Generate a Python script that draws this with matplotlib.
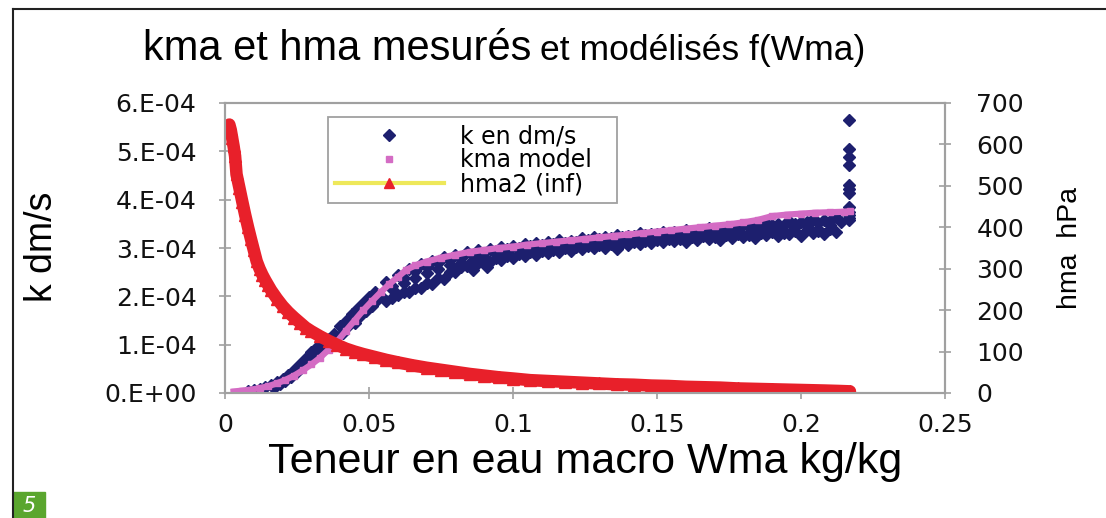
import numpy as np
import matplotlib.pyplot as plt
from matplotlib.lines import Line2D
from matplotlib.patches import Rectangle

# k mesuré (dm/s, en unités de 1e-4) en fonction de Wma (kg/kg)
w_mes = [0.008, 0.010, 0.012, 0.013, 0.014, 0.016, 0.017, 0.018, 0.019, 0.020,
         0.021, 0.022, 0.023, 0.024, 0.025, 0.026, 0.027, 0.028, 0.029, 0.030,
         0.031, 0.032, 0.033, 0.034, 0.035, 0.036, 0.037, 0.038, 0.039, 0.040,
         0.041, 0.042, 0.043, 0.044, 0.045, 0.046, 0.047, 0.048, 0.049, 0.050,
         0.051, 0.053,
         # brin haut
         0.052, 0.056, 0.060, 0.064, 0.068, 0.072, 0.076, 0.080, 0.084, 0.088,
         0.092, 0.096, 0.100, 0.104, 0.108, 0.112, 0.116, 0.120, 0.124, 0.128,
         0.132, 0.136, 0.140, 0.144, 0.148, 0.152, 0.156, 0.160, 0.164, 0.168,
         0.172, 0.176, 0.180, 0.184, 0.188, 0.192, 0.196, 0.200, 0.204, 0.208,
         0.212,
         # brin intermédiaire haut
         0.058, 0.062, 0.066, 0.070, 0.074, 0.078, 0.082, 0.086, 0.090, 0.094,
         0.098, 0.102, 0.106, 0.110, 0.114, 0.118, 0.122, 0.126, 0.130, 0.134,
         0.138, 0.142, 0.146, 0.150, 0.154, 0.158, 0.162, 0.166, 0.170, 0.174,
         0.178, 0.182, 0.186, 0.190, 0.194, 0.198, 0.202, 0.206, 0.210,
         # brin milieu
         0.054, 0.058, 0.062, 0.066, 0.070, 0.074, 0.078, 0.082, 0.086, 0.090,
         0.094, 0.098, 0.102, 0.106, 0.110, 0.114, 0.118, 0.122, 0.126, 0.130,
         0.134, 0.138, 0.142, 0.146, 0.150, 0.154, 0.158, 0.162, 0.166, 0.170,
         0.174, 0.178, 0.182, 0.186, 0.190, 0.194, 0.198, 0.202, 0.206, 0.210,
         0.214,
         # brin intermédiaire bas
         0.058, 0.062, 0.066, 0.070, 0.074, 0.078, 0.082, 0.086, 0.090, 0.094,
         0.098, 0.102, 0.106, 0.110, 0.114, 0.118, 0.122, 0.126, 0.130, 0.134,
         0.138, 0.142, 0.146, 0.150, 0.154, 0.158, 0.162, 0.166, 0.170, 0.174,
         0.178, 0.182, 0.186, 0.190, 0.194, 0.198, 0.202, 0.206, 0.210,
         # brin bas
         0.056, 0.060, 0.064, 0.068, 0.072, 0.076, 0.080, 0.084, 0.088, 0.092,
         0.096, 0.100, 0.104, 0.108, 0.112, 0.116, 0.120, 0.124, 0.128, 0.132,
         0.136, 0.140, 0.144, 0.148, 0.152, 0.156, 0.160, 0.164, 0.168, 0.172,
         0.176, 0.180, 0.184, 0.188, 0.192, 0.196, 0.200, 0.204, 0.208, 0.212,
         # points isolés
         0.086, 0.091, 0.136,
         # colonne finale
         0.2165, 0.2165, 0.2165, 0.2165, 0.2165, 0.2165, 0.2165, 0.2165, 0.2165,
         0.2165, 0.2165, 0.2165]
k_mes = [0.04, 0.06, 0.08, 0.07, 0.12, 0.16, 0.10, 0.22, 0.18, 0.30,
         0.25, 0.38, 0.33, 0.48, 0.43, 0.60, 0.55, 0.72, 0.68, 0.84,
         0.78, 0.95, 0.88, 1.05, 0.98, 1.12, 1.02, 1.22, 1.15, 1.38,
         1.25, 1.50, 1.40, 1.63, 1.45, 1.74, 1.60, 1.86, 1.70, 1.98,
         1.80, 1.95,
         2.10, 2.30, 2.45, 2.56, 2.66, 2.74, 2.81, 2.86, 2.91, 2.95,
         2.98, 3.02, 3.04, 3.08, 3.10, 3.12, 3.16, 3.15, 3.20, 3.22,
         3.23, 3.27, 3.25, 3.31, 3.30, 3.34, 3.33, 3.38, 3.36, 3.42,
         3.40, 3.44, 3.47, 3.45, 3.52, 3.50, 3.56, 3.53, 3.60, 3.58,
         3.64,
         2.22, 2.38, 2.52, 2.60, 2.68, 2.75, 2.80, 2.86, 2.90, 2.94,
         2.97, 3.01, 3.04, 3.06, 3.09, 3.11, 3.13, 3.16, 3.18, 3.20,
         3.22, 3.25, 3.27, 3.28, 3.31, 3.30, 3.34, 3.36, 3.37, 3.40,
         3.41, 3.43, 3.45, 3.47, 3.48, 3.50, 3.53, 3.52, 3.56,
         2.00, 2.15, 2.28, 2.38, 2.48, 2.57, 2.64, 2.70, 2.76, 2.82,
         2.87, 2.91, 2.95, 2.98, 3.00, 3.04, 3.03, 3.08, 3.10, 3.09,
         3.14, 3.16, 3.19, 3.18, 3.23, 3.25, 3.22, 3.28, 3.30, 3.26,
         3.33, 3.35, 3.31, 3.38, 3.40, 3.36, 3.43, 3.46, 3.40, 3.48,
         3.53,
         1.96, 2.08, 2.18, 2.28, 2.38, 2.50, 2.60, 2.72, 2.76, 2.80,
         2.84, 2.87, 2.91, 2.94, 2.96, 2.99, 3.02, 3.04, 3.06, 3.08,
         3.11, 3.13, 3.14, 3.17, 3.19, 3.18, 3.22, 3.24, 3.23, 3.27,
         3.28, 3.27, 3.31, 3.33, 3.32, 3.35, 3.37, 3.35, 3.40,
         1.90, 2.02, 2.10, 2.18, 2.26, 2.35, 2.50, 2.62, 2.68, 2.72,
         2.76, 2.80, 2.83, 2.86, 2.89, 2.91, 2.94, 2.97, 2.99, 3.01,
         3.02, 3.06, 3.08, 3.10, 3.12, 3.14, 3.13, 3.17, 3.19, 3.16,
         3.21, 3.23, 3.20, 3.26, 3.24, 3.28, 3.25, 3.31, 3.28, 3.33,
         2.55, 2.60, 2.98,
         5.65, 5.05, 4.88, 4.72, 4.31, 4.22, 4.13, 3.85, 3.75, 3.68,
         3.62, 3.58]

# kma modèle (unités de 1e-4 dm/s)
w_mod = [0.003, 0.006, 0.009, 0.012, 0.015, 0.018, 0.021, 0.024, 0.027, 0.030,
         0.033, 0.036, 0.039, 0.042, 0.045, 0.048, 0.051, 0.054, 0.057, 0.060,
         0.063, 0.066, 0.070, 0.075, 0.080, 0.085, 0.090, 0.095, 0.100, 0.105,
         0.110, 0.115, 0.120, 0.125, 0.130, 0.135, 0.140, 0.145, 0.150, 0.155,
         0.160, 0.165, 0.170, 0.175, 0.180, 0.185, 0.190, 0.195, 0.200, 0.205,
         0.210, 0.215, 0.217]
k_mod = [0.03, 0.05, 0.07, 0.10, 0.14, 0.20, 0.27, 0.36, 0.47, 0.59,
         0.73, 0.90, 1.07, 1.29, 1.50, 1.71, 1.90, 2.08, 2.25, 2.40,
         2.55, 2.64, 2.72, 2.80, 2.86, 2.92, 2.96, 3.00, 3.03, 3.07,
         3.10, 3.13, 3.16, 3.19, 3.22, 3.25, 3.28, 3.31, 3.34, 3.37,
         3.40, 3.43, 3.46, 3.49, 3.53, 3.58, 3.66, 3.69, 3.71, 3.73,
         3.74, 3.75, 3.76]

# hma2 (inf) en hPa
w_h = [0.0015, 0.002, 0.0025, 0.003, 0.0035, 0.004, 0.005, 0.006, 0.007, 0.008,
       0.009, 0.010, 0.011, 0.012, 0.013, 0.014, 0.015, 0.016, 0.018, 0.020,
       0.022, 0.024, 0.026, 0.028, 0.030, 0.033, 0.036, 0.039, 0.042, 0.045,
       0.048, 0.052, 0.056, 0.060, 0.065, 0.070, 0.075, 0.080, 0.085, 0.090,
       0.095, 0.100, 0.106, 0.112, 0.118, 0.124, 0.130, 0.136, 0.142, 0.148,
       0.154, 0.160, 0.166, 0.172, 0.178, 0.184, 0.190, 0.196, 0.202, 0.208,
       0.213, 0.217]
h_inf = [648, 635, 615, 595, 572, 528, 495, 462, 430, 400,
         372, 345, 318, 300, 285, 272, 260, 248, 228, 210,
         195, 182, 170, 158, 149, 137, 126, 116, 107, 100,
         94, 87, 80, 74, 67, 61, 56, 51, 46, 42,
         38, 35, 31, 29, 27, 25, 23, 21, 20, 18,
         17, 15, 14, 13, 11, 10, 9, 8, 7, 6,
         5, 4]

x_ticks = [0, 0.05, 0.1, 0.15, 0.2, 0.25]
x_labels = ['0', '0.05', '0.1', '0.15', '0.2', '0.25']
k_ticks = [0, 1e-4, 2e-4, 3e-4, 4e-4, 5e-4, 6e-4]
k_labels = ['0.E+00', '1.E-04', '2.E-04', '3.E-04', '4.E-04', '5.E-04', '6.E-04']
h_ticks = [0, 100, 200, 300, 400, 500, 600, 700]
series_names = ['k en dm/s', 'kma model', 'hma2 (inf)']

navy = '#1d1f6e'
pink = '#d46cc4'
red = '#e8202a'
yellow = '#eee85a'
grey = '#a0a0a0'

W, H = 1106, 518
fig = plt.figure(figsize=(W / 100, H / 100), dpi=100)
ax = fig.add_axes([225 / W, 125 / H, 720 / W, 290 / H])
ax2 = ax.twinx()

k_mes = np.array(k_mes) * 1e-4
k_mod = np.array(k_mod) * 1e-4

ax.plot(w_mes, k_mes, 'D', ms=6, color=navy, mec=navy, zorder=3)
ax.plot(w_mod, k_mod, '-', lw=4.5, color=pink, zorder=4)
ax.plot(w_mod, k_mod, 's', ms=5, color=pink, zorder=4)

ax2.plot(w_h, h_inf, '-', lw=9, color=red, solid_capstyle='round')
ax2.plot(w_h, h_inf, '^', ms=8, color=red)

ax.set_xlim(0, 0.25)
ax.set_ylim(0, 6e-4)
ax2.set_ylim(0, 700)

ax.set_xticks(x_ticks)
ax.set_xticklabels(x_labels)
ax.set_yticks(k_ticks)
ax.set_yticklabels(k_labels)
ax2.set_yticks(h_ticks)

tick_font = 'DejaVu Sans'
for a in (ax, ax2):
    for s in a.spines.values():
        s.set_color(grey)
        s.set_linewidth(1.5)
    a.tick_params(direction='inout', length=9, width=1.2, color=grey,
                  labelsize=18, labelcolor='#111')
    for lab in a.get_xticklabels() + a.get_yticklabels():
        lab.set_fontfamily(tick_font)
ax.tick_params(axis='y', pad=16)
ax.tick_params(axis='x', pad=10)
ax2.tick_params(axis='y', pad=18)

# légende
handles = [
    Line2D([], [], ls='none', marker='D', ms=6, color=navy),
    Line2D([], [], ls='none', marker='s', ms=4, color=pink),
    Line2D([], [], color=yellow, lw=3, marker='^', ms=7, mfc=red, mec=red),
]
leg = ax2.legend(handles, series_names, loc='upper left',
                 bbox_to_anchor=(0.143, 0.621, 0.401, 0.331), mode='expand',
                 prop={'family': tick_font, 'size': 17}, frameon=True,
                 fancybox=False, edgecolor=grey, framealpha=1,
                 handlelength=4.6, handletextpad=0.7, labelspacing=0.0,
                 borderpad=0.3, borderaxespad=0)
leg.get_frame().set_linewidth(1.3)

# titres
title_font = 'Liberation Sans'
fig.text(143 / W, 1 - 60 / H, 'kma et hma mesurés', fontsize=30,
         family=title_font, ha='left', va='baseline')
fig.text(540 / W, 1 - 60 / H, 'et modélisés f(Wma)', fontsize=25.5,
         family=title_font, ha='left', va='baseline')
fig.text(585 / W, 1 - 473 / H, 'Teneur en eau macro Wma kg/kg', fontsize=31,
         family=title_font, ha='center', va='baseline')
fig.text(42 / W, 1 - 247 / H, 'k dm/s', fontsize=27, family=title_font,
         rotation=90, ha='center', va='center')
fig.text(1070 / W, 1 - 248 / H, 'hma  hPa', fontsize=20.5, family=title_font,
         rotation=90, ha='center', va='center')

# cadre et numéro de figure
fig.add_artist(Line2D([13 / W, 1], [1 - 9 / H, 1 - 9 / H],
                      transform=fig.transFigure, color='#222', lw=1.5))
fig.add_artist(Line2D([13 / W, 13 / W], [0, 1 - 9 / H],
                      transform=fig.transFigure, color='#222', lw=1.5))
fig.add_artist(Rectangle((13 / W, 0), 32 / W, 26 / H,
                         transform=fig.transFigure, color='#5aa62e'))
fig.text(29 / W, 12 / H, '5', color='white', fontsize=15, style='italic',
         ha='center', va='center')

fig.savefig('out.png', dpi=100)
